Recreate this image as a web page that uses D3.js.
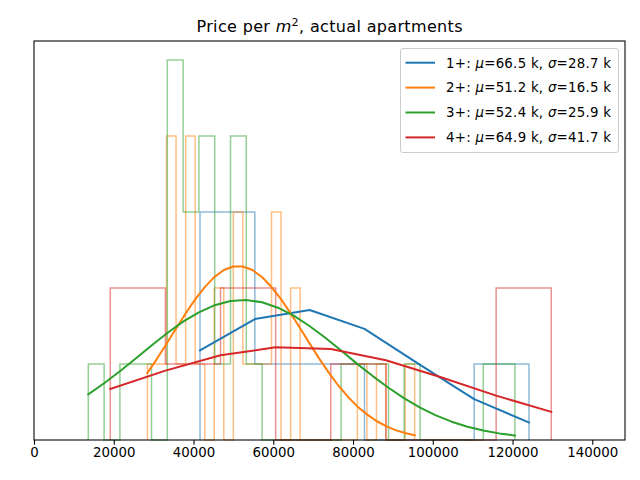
<!DOCTYPE html>
<html><head><meta charset="utf-8">
<script src="https://cdn.jsdelivr.net/npm/d3@7"></script>
<style>body{margin:0;background:#fff} svg{display:block} text{font-family:"DejaVu Sans",sans-serif;fill:#000}</style>
</head><body><svg id="c" width="640" height="480"></svg>
<script>
// ---------------- data ----------------
const seriesNames = ["1+", "2+", "3+", "4+"];
const muK = ["66.5", "51.2", "52.4", "64.9"];
const sigmaK = ["28.7", "16.5", "25.9", "41.7"];
const colors = ["#1f77b4", "#ff7f0e", "#2ca02c", "#d62728"];
// histogram range (price per m2) for each series, equal-width bins
const binRanges = [[41630, 124120], [28450, 95450], [13620, 120590], [19130, 129710]];
const counts1 = [3, 1, 1, 0, 0, 1];
const counts2 = [1, 1, 4, 1, 4, 1, 0, 2, 0, 3, 1, 1, 1, 3, 0, 2, 0, 0, 0, 0, 0, 0, 1, 0, 1, 0, 0, 1];
const counts3 = [1, 0, 1, 1, 0, 5, 3, 4, 1, 4, 1, 0, 0, 0, 0, 0, 1, 1, 1, 0, 1, 0, 0, 0, 0, 1, 1];
const counts4 = [2, 1, 2, 0, 1, 0, 0, 2];
// fitted curve values read at the bin edges (same vertical units as counts)
const curve1 = [1.178, 1.592, 1.711, 1.462, 0.995, 0.537, 0.230];
const curve2 = [0.883, 1.068, 1.266, 1.467, 1.664, 1.850, 2.012, 2.143, 2.237, 2.283, 2.283, 2.237, 2.145, 2.013, 1.853,
                1.667, 1.470, 1.268, 1.071, 0.886, 0.717, 0.570, 0.442, 0.337, 0.250, 0.183, 0.130, 0.092, 0.063];
const curve3 = [0.600, 0.746, 0.905, 1.072, 1.243, 1.408, 1.557, 1.680, 1.774, 1.828, 1.842, 1.812, 1.741, 1.636,
                1.500, 1.345, 1.178, 1.005, 0.841, 0.687, 0.547, 0.426, 0.324, 0.241, 0.175, 0.125, 0.087, 0.059];
const curve4 = [0.671, 0.913, 1.114, 1.220, 1.196, 1.050, 0.826, 0.584, 0.370];
const xTicks = [0, 20000, 40000, 60000, 80000, 100000, 120000, 140000];
const xDomain = [0, 148200];
const yDomain = [0, 5.25];

// ---------------- layout ----------------
const L = 34, R = 625, T = 41, B = 440;
const svg = d3.select("#c");
const x = d3.scaleLinear().domain(xDomain).range([L, R]);
const y = d3.scaleLinear().domain(yDomain).range([B, T]);

const countsAll = [counts1, counts2, counts3, counts4];
const curvesAll = [curve1, curve2, curve3, curve4];

function edgesOf(i) {
  const [a, b] = binRanges[i];
  const n = countsAll[i].length;
  return d3.range(n + 1).map(k => a + (b - a) * k / n);
}

// histograms (step outlines)
countsAll.forEach((cnt, i) => {
  const e = edgesOf(i);
  const pts = [[e[0], 0]];
  cnt.forEach((c, k) => { pts.push([e[k], c]); pts.push([e[k + 1], c]); });
  pts.push([e[e.length - 1], 0]);
  const line = d3.line().x(d => x(d[0])).y(d => y(d[1]));
  svg.append("path").attr("d", line(pts))
    .attr("fill", "none").attr("stroke", colors[i]).attr("stroke-width", 1.5)
    .attr("stroke-opacity", 0.5).attr("stroke-linejoin", "miter");
});

// curves
curvesAll.forEach((cv, i) => {
  const e = edgesOf(i);
  const line = d3.line().x((d, k) => x(e[k])).y(d => y(d));
  svg.append("path").attr("d", line(cv))
    .attr("fill", "none").attr("stroke", colors[i]).attr("stroke-width", 2)
    .attr("stroke-linecap", "square").attr("stroke-linejoin", "round");
});

// axes frame
svg.append("rect").attr("x", L).attr("y", T).attr("width", R - L).attr("height", B - T)
  .attr("fill", "none").attr("stroke", "#000").attr("stroke-width", 1.07);

const xAxis = d3.axisBottom(x).tickValues(xTicks).tickFormat(d3.format("d"))
  .tickSizeInner(4.67).tickSizeOuter(0).tickPadding(3.2);
const gx = svg.append("g").attr("transform", `translate(0,${B})`).call(xAxis);
gx.select(".domain").remove();
gx.selectAll("line").attr("stroke", "#000").attr("stroke-width", 1.07);
gx.selectAll("text").attr("font-size", "13.33px").attr("font-family", "DejaVu Sans").attr("fill", "#000");

// title
const title = svg.append("text").attr("x", (L + R) / 2).attr("y", 32)
  .attr("text-anchor", "middle").attr("font-size", "16px")
  .attr("textLength", 266).attr("lengthAdjust", "spacing");
title.append("tspan").text("Price per ");
title.append("tspan").attr("font-style", "italic").text("m");
title.append("tspan").attr("font-size", "11.2px").attr("dy", -6).text("2");
title.append("tspan").attr("dy", 6).text(", actual apartments");

// legend
const lg = svg.append("g");
lg.append("rect").attr("x", 400.5).attr("y", 48.5).attr("width", 218).attr("height", 104)
  .attr("rx", 2.5).attr("fill", "#fff").attr("fill-opacity", 0.8)
  .attr("stroke", "#cccccc").attr("stroke-width", 1);
seriesNames.forEach((s, i) => {
  const cy = 62.7 + i * 24.9;
  lg.append("line").attr("x1", 405.5).attr("x2", 435).attr("y1", cy).attr("y2", cy)
    .attr("stroke", colors[i]).attr("stroke-width", 2);
  const t = lg.append("text").attr("x", 446).attr("y", cy + 4.8).attr("font-size", "13.33px")
    .attr("textLength", 165).attr("lengthAdjust", "spacing");
  t.append("tspan").text(s + ": ");
  t.append("tspan").attr("font-style", "italic").text("\u03bc");
  t.append("tspan").text("=" + muK[i] + " k, ");
  t.append("tspan").attr("font-style", "italic").text("\u03c3");
  t.append("tspan").text("=" + sigmaK[i] + " k");
});
</script></body></html>
